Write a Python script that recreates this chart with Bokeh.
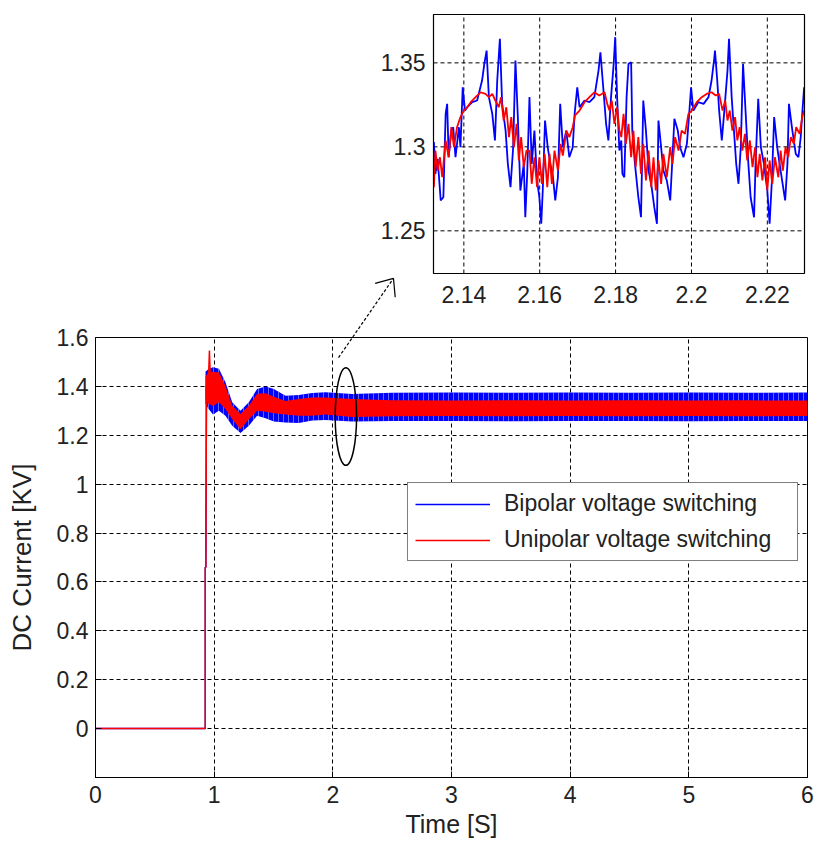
import math

from bokeh.plotting import figure
from bokeh.models import (Range1d, FixedTicker, PrintfTickFormatter, Legend, LegendItem)
from bokeh.core.properties import value
from bokeh.embed import file_html
from bokeh.resources import INLINE

FONT = "Liberation Sans"
FS = "23px"
FS_XLABEL = "25px"
FS_YLABEL = "26px"
BLUE = "#0000ff"
RED = "#ff0000"
INK = "#222222"

# ---------------- main plot data ----------------
x_ticks = [0, 1, 2, 3, 4, 5, 6]
y_ticks = [0, 0.2, 0.4, 0.6, 0.8, 1.0, 1.2, 1.4, 1.6]

# start-up: zero until the converter is enabled, then a fast rise
step_t = [0.0, 0.925, 0.925, 0.930, 0.935]
step_blue = [0.0, 0.0, 0.66, 0.66, 1.40]
step_red = [0.0, 0.0, 0.66, 0.66, 1.40]

# overshoot spike of the unipolar trace
spike_t = [0.950, 0.960, 0.970]
spike_red = [1.40, 1.547, 1.40]

# ripple envelopes (upper / lower) of both traces
band_t = [0.927, 0.95, 0.99, 1.04, 1.095, 1.152, 1.222, 1.292, 1.362, 1.433,
          1.503, 1.601, 1.713, 1.826, 1.938, 2.163, 2.5, 3.0, 3.5, 4.0,
          4.5, 5.0, 5.5, 6.0]
blue_hi = [1.46, 1.47, 1.478, 1.472, 1.417, 1.335, 1.300, 1.335, 1.389, 1.400,
           1.389, 1.362, 1.365, 1.373, 1.376, 1.369, 1.374, 1.375, 1.374, 1.375,
           1.374, 1.375, 1.374, 1.375]
blue_lo = [1.33, 1.31, 1.285, 1.300, 1.280, 1.239, 1.209, 1.239, 1.280, 1.270,
           1.256, 1.252, 1.250, 1.260, 1.262, 1.256, 1.258, 1.258, 1.257, 1.258,
           1.258, 1.257, 1.258, 1.258]
red_hi = [1.44, 1.457, 1.46, 1.457, 1.403, 1.321, 1.287, 1.321, 1.370, 1.372,
          1.358, 1.340, 1.348, 1.355, 1.355, 1.348, 1.343, 1.342, 1.343, 1.342,
          1.343, 1.342, 1.343, 1.342]
red_lo = [1.35, 1.33, 1.32, 1.335, 1.307, 1.266, 1.225, 1.266, 1.300, 1.296,
          1.290, 1.285, 1.280, 1.280, 1.285, 1.275, 1.278, 1.279, 1.278, 1.279,
          1.278, 1.279, 1.278, 1.279]

# marker around the zoomed window and the pointer to the zoomed view
marker_center = (2.11, 1.277)
marker_size = (0.18, 0.40)
pointer_start = (2.048, 1.518)
pointer_end = (2.511, 1.842)

# ---------------- zoomed window data (2.13 s .. 2.23 s) ----------------
inset_x_ticks = [2.14, 2.16, 2.18, 2.20, 2.22]
inset_y_ticks = [1.25, 1.30, 1.35]
inset_x_lim = (2.1320, 2.2298)
inset_y_lim = (1.2246, 1.3788)

bip_t = [2.1321, 2.1325, 2.1331, 2.1339, 2.1346, 2.1352, 2.1356, 2.1360, 2.1367, 2.1372,
         2.1378, 2.1387, 2.1391, 2.1397, 2.1403, 2.1409, 2.1422, 2.1435, 2.1448, 2.1454,
         2.1460, 2.1466, 2.1475, 2.1482, 2.1488, 2.1495, 2.1501, 2.1510, 2.1516, 2.1523,
         2.1530, 2.1536, 2.1542, 2.1549, 2.1558, 2.1562, 2.1567, 2.1573, 2.1579, 2.1586,
         2.1593, 2.1599, 2.1604, 2.1608, 2.1614, 2.1621, 2.1628, 2.1635, 2.1641, 2.1648,
         2.1654, 2.1661, 2.1670, 2.1678, 2.1687, 2.1692, 2.1699, 2.1705, 2.1718, 2.1731,
         2.1744, 2.1755, 2.1760, 2.1766, 2.1775, 2.1781, 2.1788, 2.1795, 2.1799, 2.1804,
         2.1810, 2.1815, 2.1818, 2.1823, 2.1829, 2.1834, 2.1841, 2.1844, 2.1851, 2.1860,
         2.1867, 2.1873, 2.1880, 2.1887, 2.1895, 2.1902, 2.1909, 2.1913, 2.1920, 2.1926,
         2.1935, 2.1944, 2.1950, 2.1955, 2.1964, 2.1970, 2.1979, 2.1988, 2.1994, 2.1999,
         2.2005, 2.2018, 2.2032, 2.2045, 2.2053, 2.2060, 2.2062, 2.2068, 2.2073, 2.2080,
         2.2086, 2.2095, 2.2099, 2.2106, 2.2112, 2.2118, 2.2124, 2.2130, 2.2136, 2.2143,
         2.2150, 2.2156, 2.2165, 2.2169, 2.2176, 2.2183, 2.2191, 2.2200, 2.2206, 2.2212,
         2.2218, 2.2226, 2.2235, 2.2247, 2.2253, 2.2257, 2.2266, 2.2275, 2.2282, 2.2288,
         2.2292, 2.2297]
bip_v = [1.3028, 1.2839, 1.2929, 1.2681, 1.2700, 1.3196, 1.3256, 1.2938, 1.3097, 1.3117,
         1.2938, 1.3117, 1.2998, 1.3355, 1.3216, 1.3236, 1.3266, 1.3276, 1.3395, 1.3494,
         1.3573, 1.3296, 1.3196, 1.3038, 1.3395, 1.3643, 1.3256, 1.3097, 1.2899, 1.2760,
         1.2998, 1.3514, 1.3196, 1.2740, 1.2899, 1.2581, 1.2839, 1.3296, 1.2899, 1.3097,
         1.2800, 1.2700, 1.2542, 1.2740, 1.3157, 1.2998, 1.2899, 1.2819, 1.2681, 1.2819,
         1.3256, 1.2998, 1.3097, 1.2938, 1.2998, 1.3196, 1.3355, 1.3236, 1.3276, 1.3266,
         1.3296, 1.3454, 1.3563, 1.3395, 1.3137, 1.3038, 1.3296, 1.3494, 1.3653, 1.3296,
         1.2978, 1.3038, 1.2839, 1.2819, 1.3296, 1.3494, 1.3504, 1.3097, 1.2899, 1.2700,
         1.2581, 1.3276, 1.3097, 1.2859, 1.2760, 1.2641, 1.2542, 1.3157, 1.2998, 1.2859,
         1.2800, 1.2681, 1.2938, 1.3167, 1.3097, 1.2998, 1.2938, 1.3018, 1.3196, 1.3355,
         1.3216, 1.3266, 1.3256, 1.3296, 1.3395, 1.3524, 1.3573, 1.3395, 1.3216, 1.3038,
         1.3196, 1.3454, 1.3643, 1.3296, 1.3097, 1.2899, 1.2780, 1.2998, 1.3494, 1.3196,
         1.2899, 1.2700, 1.2581, 1.2899, 1.3286, 1.2998, 1.2899, 1.2740, 1.2542, 1.2800,
         1.3177, 1.2998, 1.2859, 1.2681, 1.2899, 1.3256, 1.3097, 1.2958, 1.2938, 1.3058,
         1.3196, 1.3355]

uni_t = [2.1321, 2.1325, 2.1331, 2.1337, 2.1343, 2.1352, 2.1360, 2.1367, 2.1374, 2.1382,
         2.1391, 2.1400, 2.1409, 2.1418, 2.1431, 2.1444, 2.1457, 2.1466, 2.1475, 2.1483,
         2.1492, 2.1498, 2.1505, 2.1512, 2.1519, 2.1525, 2.1532, 2.1539, 2.1545, 2.1551,
         2.1558, 2.1565, 2.1573, 2.1579, 2.1586, 2.1593, 2.1599, 2.1606, 2.1613, 2.1620,
         2.1626, 2.1632, 2.1639, 2.1648, 2.1655, 2.1661, 2.1670, 2.1678, 2.1687, 2.1693,
         2.1705, 2.1718, 2.1731, 2.1744, 2.1757, 2.1771, 2.1778, 2.1784, 2.1790, 2.1797,
         2.1804, 2.1810, 2.1815, 2.1821, 2.1827, 2.1834, 2.1841, 2.1847, 2.1853, 2.1860,
         2.1867, 2.1873, 2.1880, 2.1887, 2.1894, 2.1900, 2.1906, 2.1913, 2.1920, 2.1926,
         2.1935, 2.1944, 2.1950, 2.1957, 2.1966, 2.1974, 2.1983, 2.1992, 2.2001, 2.2014,
         2.2027, 2.2040, 2.2053, 2.2064, 2.2073, 2.2082, 2.2089, 2.2095, 2.2101, 2.2108,
         2.2115, 2.2121, 2.2127, 2.2134, 2.2141, 2.2147, 2.2154, 2.2161, 2.2168, 2.2174,
         2.2180, 2.2187, 2.2194, 2.2200, 2.2206, 2.2213, 2.2220, 2.2229, 2.2235, 2.2241,
         2.2248, 2.2255, 2.2262, 2.2270, 2.2276, 2.2285, 2.2292, 2.2297]
uni_v = [1.2760, 1.2978, 1.2859, 1.2938, 1.2819, 1.3038, 1.2938, 1.3117, 1.2998, 1.3117,
         1.3177, 1.3216, 1.3236, 1.3266, 1.3296, 1.3325, 1.3315, 1.3296, 1.3315, 1.3276,
         1.3236, 1.3296, 1.3157, 1.3236, 1.3058, 1.3177, 1.2998, 1.3137, 1.2919, 1.3058,
         1.2879, 1.2978, 1.2978, 1.2780, 1.2938, 1.2760, 1.2938, 1.2780, 1.2958, 1.2760,
         1.2958, 1.2780, 1.2978, 1.2859, 1.3018, 1.2948, 1.3097, 1.3058, 1.3117, 1.3187,
         1.3216, 1.3266, 1.3296, 1.3325, 1.3306, 1.3325, 1.3256, 1.3216, 1.3276, 1.3137,
         1.3236, 1.3097, 1.3058, 1.3196, 1.3018, 1.3137, 1.2938, 1.3097, 1.2879, 1.3058,
         1.2839, 1.3018, 1.2800, 1.2978, 1.2760, 1.2938, 1.2740, 1.2919, 1.2780, 1.2958,
         1.2819, 1.2998, 1.2899, 1.3058, 1.2978, 1.3097, 1.3077, 1.3196, 1.3216, 1.3266,
         1.3296, 1.3315, 1.3325, 1.3306, 1.3315, 1.3216, 1.3276, 1.3157, 1.3216, 1.3097,
         1.3177, 1.3038, 1.3117, 1.2978, 1.3077, 1.2919, 1.3038, 1.2879, 1.2998, 1.2819,
         1.2958, 1.2800, 1.2938, 1.2740, 1.2919, 1.2780, 1.2938, 1.2819, 1.2978, 1.2859,
         1.2998, 1.2938, 1.3058, 1.3018, 1.3117, 1.3077, 1.3177, 1.3216]

# ---------------- page geometry (pixels) ----------------
W, H = 814, 842
FRAME_L, FRAME_R, FRAME_T, FRAME_B = 95, 807, 337, 777
INSET_L, INSET_R, INSET_T, INSET_B = 433, 804, 14, 273
X_LIM = (0.0, 6.0)
Y_LIM = (-0.2, 1.6)

p = figure(width=W, height=H, output_backend="svg", toolbar_location=None,
           x_range=Range1d(*X_LIM), y_range=Range1d(*Y_LIM),
           min_border_left=FRAME_L, min_border_right=W - FRAME_R,
           min_border_top=FRAME_T, min_border_bottom=H - FRAME_B)
p.background_fill_color = "white"
p.border_fill_color = "white"
p.outline_line_color = "black"
p.outline_line_width = 1
p.outline_line_alpha = 1

for ax, ticks in ((p.xaxis, x_ticks), (p.yaxis, y_ticks)):
    ax.ticker = FixedTicker(ticks=ticks)
    ax.formatter = PrintfTickFormatter(format="%g")
    ax.major_tick_in = 6
    ax.major_tick_out = 0
    ax.minor_tick_line_color = None
    ax.axis_line_color = "black"
    ax.major_label_text_font = FONT
    ax.major_label_text_font_size = FS
    ax.major_label_text_color = INK
    ax.axis_label_text_font = FONT
    ax.axis_label_text_font_style = "normal"
    ax.axis_label_text_color = INK
p.xaxis.axis_label = "Time [S]"
p.yaxis.axis_label = "DC Current [KV]"
p.xaxis.axis_label_text_font_size = FS_XLABEL
p.yaxis.axis_label_text_font_size = FS_YLABEL
p.xaxis.major_label_standoff = 8
p.yaxis.major_label_standoff = 7
p.xaxis.axis_label_standoff = 4
p.yaxis.axis_label_standoff = 17

for g in (p.xgrid, p.ygrid):
    g.grid_line_color = "black"
    g.grid_line_dash = "4 3"
    g.grid_line_width = 1
    g.grid_line_alpha = 1

# traces: the switching ripple fills a band between its envelopes
blue_line = p.line(step_t, step_blue, line_color=BLUE, line_width=1.5)
p.varea(x=band_t, y1=blue_lo, y2=blue_hi, fill_color=BLUE,
        hatch_pattern="|", hatch_color="white", hatch_alpha=0.4,
        hatch_scale=5, hatch_weight=1)
p.varea(x=band_t, y1=red_lo, y2=red_hi, fill_color=RED)
red_line = p.line(step_t, step_red, line_color=RED, line_width=1.5)
p.line(spike_t, spike_red, line_color=RED, line_width=1.5)

# ellipse marking the zoomed window
p.ellipse(x=[marker_center[0]], y=[marker_center[1]],
          width=[marker_size[0]], height=[marker_size[1]],
          fill_color=None, line_color="black", line_width=1.5)

# pointer: dashed shaft plus an open head, drawn unclipped so it leaves the frame
px_x = (FRAME_R - FRAME_L) / (X_LIM[1] - X_LIM[0])
px_y = (FRAME_B - FRAME_T) / (Y_LIM[1] - Y_LIM[0])
(x0, y0), (x1, y1) = pointer_start, pointer_end
p.segment(x0=[x0], y0=[y0], x1=[x1], y1=[y1], line_color="black",
          line_width=1.2, line_dash="3 2", level="overlay")
ang = math.atan2((y1 - y0) * px_y, (x1 - x0) * px_x) + math.pi
head_len, head_half = 19, math.radians(40)
hx = [x1 + head_len * math.cos(ang + s * head_half) / px_x for s in (-1, 1)]
hy = [y1 + head_len * math.sin(ang + s * head_half) / px_y for s in (-1, 1)]
p.segment(x0=[x1, x1], y0=[y1, y1], x1=hx, y1=hy, line_color="black",
          line_width=1.2, level="overlay")

legend = Legend(items=[LegendItem(label="Bipolar voltage switching", renderers=[blue_line]),
                       LegendItem(label="Unipolar voltage switching", renderers=[red_line])],
                location=(312, 216))
legend.label_text_font = FONT
legend.label_text_font_size = FS
legend.label_text_color = INK
legend.border_line_color = "black"
legend.border_line_width = 1
legend.background_fill_alpha = 1
legend.glyph_width = 75
legend.glyph_height = 24
legend.label_height = 24
legend.label_width = 286
legend.label_standoff = 14
legend.spacing = 9
legend.padding = 7
legend.margin = 0
p.add_layout(legend)

# ---------------- zoomed view drawn above the main frame ----------------
ix0, ix1 = inset_x_lim
iy0, iy1 = inset_y_lim
sx = (ix1 - ix0) / (INSET_R - INSET_L)
sy = (iy1 - iy0) / (INSET_B - INSET_T)
p.extra_x_ranges = {"ix": Range1d(ix0 - (INSET_L - FRAME_L) * sx, ix1 + (FRAME_R - INSET_R) * sx)}
p.extra_y_ranges = {"iy": Range1d(iy0 - (FRAME_B - INSET_B) * sy, iy1 - (FRAME_T - INSET_T) * sy)}
kw = dict(x_range_name="ix", y_range_name="iy", level="overlay")

p.quad(left=[ix0], right=[ix1], bottom=[iy0], top=[iy1],
       fill_color="white", line_color=None, **kw)
p.segment(x0=inset_x_ticks, x1=inset_x_ticks, y0=[iy0] * len(inset_x_ticks),
          y1=[iy1] * len(inset_x_ticks), line_color="black", line_dash="4 3", **kw)
p.segment(x0=[ix0] * len(inset_y_ticks), x1=[ix1] * len(inset_y_ticks),
          y0=inset_y_ticks, y1=inset_y_ticks, line_color="black", line_dash="4 3", **kw)
p.line(bip_t, bip_v, line_color=BLUE, line_width=1.8, **kw)
p.line(uni_t, uni_v, line_color=RED, line_width=1.8, **kw)
p.quad(left=[ix0], right=[ix1], bottom=[iy0], top=[iy1],
       fill_color=None, line_color="black", line_width=1.2, **kw)
p.text(x=[ix0] * len(inset_y_ticks), y=inset_y_ticks, text=["%g" % v for v in inset_y_ticks],
       text_font=value(FONT), text_font_size=FS, text_color=INK,
       text_align="right", text_baseline="middle", x_offset=-8, **kw)
p.text(x=inset_x_ticks, y=[iy0] * len(inset_x_ticks), text=["%g" % v for v in inset_x_ticks],
       text_font=value(FONT), text_font_size=FS, text_color=INK,
       text_align="center", text_baseline="top", y_offset=12, **kw)

open("out.html", "w").write(file_html(p, INLINE))
